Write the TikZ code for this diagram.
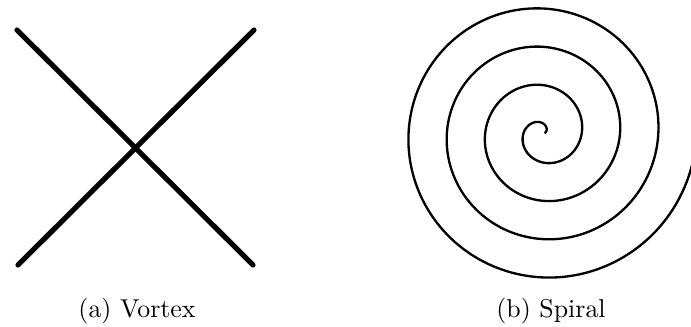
\documentclass[tikz,border=0pt]{standalone}
\usetikzlibrary{positioning}
\tikzset{vortex/.style={line width=2pt, line cap=round}}
\tikzset{spiral/.style={line width=0.9pt}}

\begin{document}
\begin{tikzpicture}[x=0.387pt, y=0.387pt]
  \useasboundingbox (0,0) rectangle (691,327);
  \clip (0,0) rectangle (691,327);

  % vortex
  \coordinate (tl) at (17,297);
  \coordinate (tr) at (254,297);
  \coordinate (bl) at (18,62);
  \coordinate (br) at (253,62);
  \draw[vortex] (tl) -- (br);
  \draw[vortex] (tr) -- (bl);

  % spiral
  \draw[spiral, shift={(543,193.6)}, domain=10:1440, samples=600, smooth, variable=\t]
    plot ({(0.4+0.1064*\t)*cos(\t)}, {(0.4+0.1064*\t)*sin(\t)});

  \node[anchor=base] (capa) at (137,9) {(a) Vortex};
  \node[anchor=base] (capb) at (551,9) {(b) Spiral};
\end{tikzpicture}
\end{document}
